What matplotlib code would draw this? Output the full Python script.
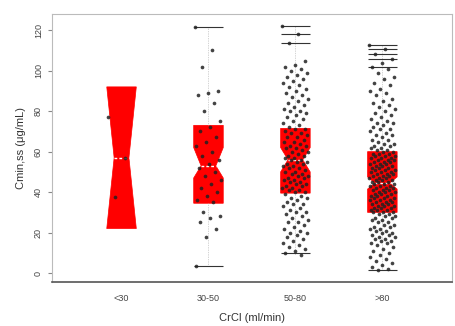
import matplotlib
matplotlib.use("Agg")
import matplotlib.pyplot as plt
import numpy as np

plt.rcParams['font.family'] = ['Liberation Sans', 'DejaVu Sans']

groups = ['<30', '30-50', '50-80', '>80']

# box statistics
q1 = [22, 34.5, 39.5, 30]
med = [57, 53, 56, 44.5]
q3 = [92, 73, 71.5, 60]
ci_lo = [22, 47, 50, 41.5]
ci_hi = [92, 62, 62, 47.5]
whis_lo = [22, 3.5, 9, 1.5]
whis_hi = [92, 121.5, 122, 112.5]

# horizontal marks drawn at the ends of the whiskers
cap_lines = [
    [],
    [3.5, 121.5],
    [122, 118, 113.5, 10],
    [112.5, 110.5, 108, 106, 102, 1.5],
]

# individual observations
obs_lt30 = [77, 57, 37.5]
obs_30_50 = [121.5, 110, 102, 90, 89, 88, 84, 80, 75, 72, 70, 67, 65, 63,
             60, 58, 56, 54, 52, 50, 48, 46, 44, 42, 40, 38, 36, 35,
             30, 28, 27, 25, 22, 18, 3.5]
obs_50_80 = [122, 118, 113.5, 105, 103, 102, 101, 100, 99, 98, 97, 96, 95,
             94, 93, 92, 91, 90, 89, 88, 87, 86, 85, 84, 83, 82, 81, 80, 80,
             79, 78, 77, 76, 75, 74, 73, 72,
             71, 71, 70, 69, 69, 68, 67, 67, 66, 65, 65, 64, 63, 63, 62, 62,
             61, 60, 60, 59, 58, 58, 57, 57, 56, 56, 55, 55, 54, 54, 53, 53,
             52, 52, 51, 50, 50, 49, 49, 48, 48, 47, 47, 46, 46, 45, 45, 44,
             44, 43, 43, 42, 42, 41, 41, 40, 40,
             39, 38, 37, 37, 36, 35, 34, 34, 33, 32, 31, 30, 30, 29, 28, 27,
             26, 25, 25, 24, 23, 22, 21, 20, 20, 19, 18, 17, 16, 15, 14, 13,
             12, 11, 10, 9]
obs_gt80 = [112.5, 110.5, 108, 106, 104, 102, 101, 99, 97, 96, 94, 93, 91,
            90, 89, 88, 86, 85, 84, 83, 82, 81, 80, 79, 78, 77, 76, 75, 74,
            74, 73, 72, 71, 71, 70, 69, 68, 68, 67, 66, 66, 65, 64, 64, 63,
            63, 62, 62, 61, 61, 60, 60,
            59, 59, 59, 58, 58, 58, 57, 57, 57, 56, 56, 56, 55, 55, 55, 54,
            54, 54, 53, 53, 53, 52, 52, 52, 51, 51, 51, 50, 50, 50, 49, 49,
            49, 48, 48, 48, 47, 47, 47, 46, 46, 46, 45, 45, 45, 44, 44, 44,
            43, 43, 43, 42, 42, 42, 41, 41, 41, 40, 40, 40, 39, 39, 39, 38,
            38, 38, 37, 37, 37, 36, 36, 36, 35, 35, 35, 34, 34, 34, 33, 33,
            33, 32, 32, 32, 31, 31, 31, 30, 30, 30,
            29, 29, 28, 28, 27, 27, 26, 26, 25, 25, 24, 24, 23, 23, 22, 22,
            21, 21, 20, 20, 19, 19, 18, 18, 17, 17, 16, 16, 15, 15, 14, 13,
            12, 11, 10, 9, 8, 7, 6, 5, 4, 3, 2, 1.5]

observations = [obs_lt30, obs_30_50, obs_50_80, obs_gt80]

fig = plt.figure(figsize=(4.56, 3.26), dpi=100)
ax = fig.add_axes([0.114, 0.135, 0.877, 0.822])

positions = np.arange(1, len(groups) + 1)
width = 0.34

stats = []
for i in range(len(groups)):
    stats.append(dict(q1=q1[i], med=med[i], q3=q3[i], cilo=ci_lo[i],
                      cihi=ci_hi[i], whislo=whis_lo[i], whishi=whis_hi[i],
                      fliers=[]))

ax.bxp(stats, positions=positions, widths=width, shownotches=True,
       showcaps=False, showfliers=False, patch_artist=True,
       boxprops=dict(facecolor='#ff0000', edgecolor='#ff0000', linewidth=0.5),
       medianprops=dict(color='white', linestyle=(0, (2, 1.5)), linewidth=1.0),
       whiskerprops=dict(color='#aaaaaa', linestyle=(0, (1, 1.5)), linewidth=0.5),
       zorder=2)

for i, lines in enumerate(cap_lines):
    for v in lines:
        ax.hlines(v, positions[i] - width / 2, positions[i] + width / 2,
                  color='#333333', linewidth=0.8, zorder=3)

# spread points sideways so they do not pile up
for i, vals in enumerate(observations):
    idx = np.arange(len(vals))
    offs = ((idx * 0.6180339) % 1.0 - 0.5) * 0.30
    ax.scatter(positions[i] + offs, vals, s=7, color='#222222',
               alpha=0.85, linewidths=0, zorder=4)

ax.set_xlim(0.2, 4.8)
ax.set_ylim(-4.4, 128)
ax.set_yticks(np.arange(0, 121, 20))
ax.set_xticks(positions)
ax.set_xticklabels(groups)
ax.tick_params(axis='x', length=0, labelsize=6.5, labelcolor='#444444', pad=9)
ax.tick_params(axis='y', length=3, color='#888888', labelsize=6.5,
               labelcolor='#444444', labelrotation=90)
for lab in ax.get_yticklabels():
    lab.set_verticalalignment('center')

for side in ['top', 'right', 'left']:
    ax.spines[side].set_color('#bbbbbb')
    ax.spines[side].set_linewidth(0.8)
ax.spines['bottom'].set_color('#555555')
ax.spines['bottom'].set_linewidth(1.2)

ax.set_xlabel('CrCl (ml/min)', fontsize=8, color='#333333', labelpad=7)
ax.set_ylabel('Cmin,ss (\u03bcg/mL)', fontsize=8, color='#333333', labelpad=6)

fig.savefig('out.png', dpi=100)
